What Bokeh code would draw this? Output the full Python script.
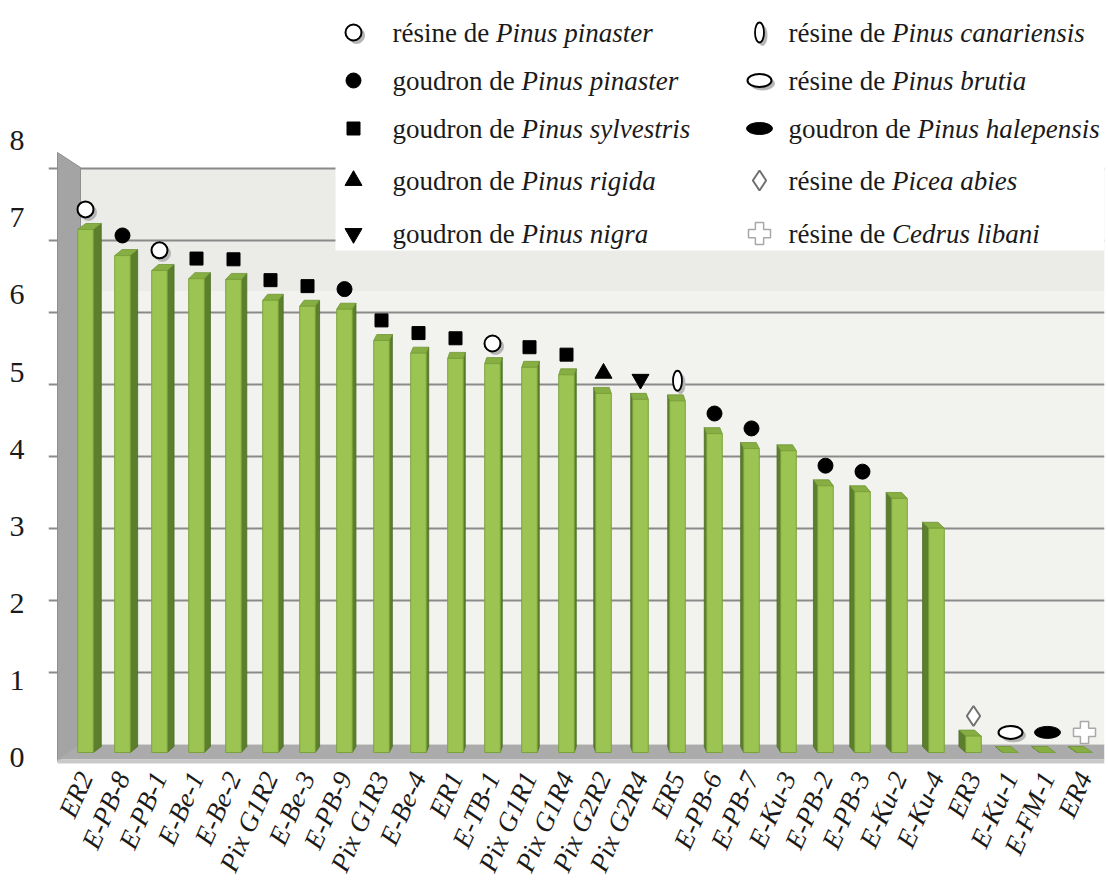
import numpy as np
from bokeh.plotting import figure
from bokeh.models import Range1d, LinearAxis, FixedTicker, Grid, ColumnDataSource
from bokeh.core.properties import value
from bokeh.embed import file_html
from bokeh.resources import INLINE

# ---------------- data ----------------
categories = ["ER2", "E-PB-8", "E-PB-1", "E-Be-1", "E-Be-2", "Pix G1R2", "E-Be-3",
              "E-PB-9", "Pix G1R3", "E-Be-4", "ER1", "E-TB-1", "Pix G1R1", "Pix G1R4",
              "Pix G2R2", "Pix G2R4", "ER5", "E-PB-6", "E-PB-7", "E-Ku-3", "E-PB-2",
              "E-PB-3", "E-Ku-2", "E-Ku-4", "ER3", "E-Ku-1", "E-FM-1", "ER4"]
values = [7.02, 6.67, 6.47, 6.36, 6.35, 6.07, 5.99, 5.95, 5.53, 5.36, 5.29, 5.22,
          5.17, 5.07, 4.82, 4.74, 4.72, 4.28, 4.08, 4.05, 3.58, 3.50, 3.41, 3.01,
          0.22, 0.0, 0.0, 0.0]
# marker kind drawn above each bar (None = no marker)
bar_marker = ["rp", "gp", "rp", "gs", "gs", "gs", "gs", "gp", "gs", "gs", "gs", "rp",
              "gs", "gs", "gr", "gn", "rc", "gp", "gp", None, "gp", "gp", None, None,
              "pa", "rb", "gh", "cl"]
y_ticks = [0, 1, 2, 3, 4, 5, 6, 7, 8]

legend_kinds = ["rp", "gp", "gs", "gr", "gn", "rc", "rb", "gh", "pa", "cl"]
legend_prefix = ["résine de ", "goudron de ", "goudron de ", "goudron de ", "goudron de ",
                 "résine de ", "résine de ", "goudron de ", "résine de ", "résine de "]
legend_species = ["Pinus pinaster", "Pinus pinaster", "Pinus sylvestris", "Pinus rigida",
                  "Pinus nigra", "Pinus canariensis", "Pinus brutia", "Pinus halepensis",
                  "Picea abies", "Cedrus libani"]

# ---------------- layout helpers (canvas pixels -> data units) ----------------
PX0, PITCH = 85.0, 37.0          # canvas x of first bar, bar pitch
PY0, PYS = 752.0, 74.5           # canvas y of value 0 (bar plane), px per unit


def dx(px):
    return (px - PX0) / PITCH


def dy(py):
    return (PY0 - py) / PYS


FONT = "Liberation Serif"
W, H = 1108, 885
FRAME_L, FRAME_R, FRAME_T, FRAME_B = 48, 1104, 0, 764

p = figure(width=W, height=H, output_backend="svg", toolbar_location=None,
           x_range=Range1d(dx(FRAME_L), dx(FRAME_R)), y_range=Range1d(dy(FRAME_B), dy(FRAME_T)),
           y_axis_location=None, min_border_left=FRAME_L, min_border_right=W - FRAME_R,
           min_border_top=FRAME_T, min_border_bottom=H - FRAME_B)
p.outline_line_color = None
p.background_fill_color = "white"
p.border_fill_color = "white"
p.grid.visible = False

# perspective planes: back wall and front axis
p.extra_y_ranges = {
    "wall": Range1d(-(FRAME_B - 744) / 72.0, (744 - FRAME_T) / 72.0),
    "front": Range1d(-(FRAME_B - 757) / 77.1, (757 - FRAME_T) / 77.1),
}

# back wall
p.quad(left=dx(80), right=dx(1104), bottom=0, top=8, y_range_name="wall",
       fill_color="#f2f3ef", line_color=None, level="image")
p.quad(left=dx(80), right=dx(1104), bottom=6.3, top=8, y_range_name="wall",
       fill_color="#ebece8", line_color=None, level="image")

grid = Grid(dimension=1, ticker=FixedTicker(ticks=y_ticks[1:]), y_range_name="wall",
            grid_line_color="#8a8a8a", grid_line_width=2, bounds=(dx(80), dx(1104)))
p.add_layout(grid, "center")

# left wall
p.patch(x=[dx(57), dx(80), dx(80), dx(57)], y=[dy(152), dy(167), dy(745), dy(761)],
        fill_color="#a4a4a4", line_color="#8e8e8e", line_width=1)
# floor
p.patch(x=[dx(80), dx(1104), dx(1104), dx(57)], y=[dy(744), dy(744), dy(759), dy(759)],
        fill_color="#ababab", line_color=None)
p.patch(x=[dx(57), dx(1104), dx(1104), dx(57)], y=[dy(759), dy(759), dy(763), dy(763)],
        fill_color="#c9c9c9", line_color=None)

# legend background box
p.quad(left=dx(335), right=dx(1104), bottom=dy(250), top=dy(0),
       fill_color="white", line_color=None)

# ---------------- bars (pseudo 3D) ----------------
n = len(categories)
xs = np.arange(n, dtype=float)
vals = np.array(values, dtype=float)
FW = 0.42                 # front face width
DEPTH = 6.0 / PYS         # vertical depth offset
side_xs, side_ys, top_xs, top_ys = [], [], [], []
for i in range(n):
    xl, xr, v = xs[i] - FW / 2, xs[i] + FW / 2, vals[i]
    s = max(2.0, 8.0 * abs(i - 13) / 13.0) / PITCH
    if i <= 13:
        side_xs.append([xr, xr + s, xr + s, xr])
        top_xs.append([xl, xr, xr + s, xl + s])
    else:
        side_xs.append([xl, xl - s, xl - s, xl])
        top_xs.append([xl, xr, xr - s, xl - s])
    side_ys.append([0, DEPTH, v + DEPTH, v])
    top_ys.append([v, v, v + DEPTH, v + DEPTH])

p.patches(xs=side_xs, ys=side_ys, fill_color="#5b7f2c", line_color="#4d6d24", line_width=0.8)
p.patches(xs=top_xs, ys=top_ys, fill_color="#86ae42", line_color="#6f9535", line_width=0.8)
p.quad(left=xs - FW / 2, right=xs + FW / 2, bottom=0, top=vals,
       fill_color="#9cc452", line_color="#7aa23a", line_width=1)

# ---------------- markers ----------------
MARKER_OFFSET = 0.27
SHADOW = (3.0 / PITCH, -3.0 / PYS)


def draw_kind(kind, mx, my):
    mx = np.asarray(mx, dtype=float)
    my = np.asarray(my, dtype=float)
    if len(mx) == 0:
        return
    sx, sy = mx + SHADOW[0], my + SHADOW[1]
    if kind == "rp":
        p.scatter(sx, sy, marker="circle", size=16, fill_color="#b5b5b5", line_color="#b5b5b5")
        p.scatter(mx, my, marker="circle", size=16, fill_color="white", line_color="black",
                  line_width=2)
    elif kind == "gp":
        p.scatter(mx, my, marker="circle", size=15, fill_color="black", line_color="black")
    elif kind == "gs":
        p.scatter(mx, my, marker="square", size=13, fill_color="black", line_color="black")
    elif kind == "gr":
        p.scatter(mx, my, marker="triangle", size=17, fill_color="black", line_color="black")
    elif kind == "gn":
        p.scatter(mx, my, marker="inverted_triangle", size=17, fill_color="black",
                  line_color="black")
    elif kind == "rc":
        p.ellipse(sx, sy, width=9, height=20, width_units="screen", height_units="screen",
                  fill_color="#b5b5b5", line_color="#b5b5b5")
        p.ellipse(mx, my, width=9, height=20, width_units="screen", height_units="screen",
                  fill_color="white", line_color="black", line_width=1.8)
    elif kind == "rb":
        p.ellipse(sx, sy, width=24, height=13, width_units="screen", height_units="screen",
                  fill_color="#b5b5b5", line_color="#b5b5b5")
        p.ellipse(mx, my, width=24, height=13, width_units="screen", height_units="screen",
                  fill_color="white", line_color="black", line_width=2)
    elif kind == "gh":
        p.ellipse(mx, my, width=26, height=12, width_units="screen", height_units="screen",
                  fill_color="black", line_color="black")
    elif kind == "pa":
        p.scatter(mx, my, marker="diamond", size=20, fill_color="white", line_color="#707070",
                  line_width=2)
    elif kind == "cl":
        p.scatter(mx, my, marker="plus", size=22, fill_color="white", line_color="#a8a8a8",
                  line_width=1.5)


for kind in legend_kinds:
    idx = [i for i in range(n) if bar_marker[i] == kind]
    draw_kind(kind, xs[idx], vals[idx] + MARKER_OFFSET)

# ---------------- legend (manual, two columns) ----------------
rows_py = [32, 80, 128, 180, 233]
col_marker_px = [353, 759]
col_text_px = [392, 788]
FS = 27
# Liberation Serif advance widths (per 1000 em) for the prefixes
ADV = {" ": 250, "r": 333, "é": 444, "s": 389, "i": 278, "n": 500, "e": 444, "d": 500,
       "g": 500, "o": 500, "u": 500}

lx, ly, tx, ty, pref, spec, offs = [], [], [], [], [], [], []
for k in range(len(legend_kinds)):
    col, row = divmod(k, 5)
    lx.append(dx(col_marker_px[col]))
    ly.append(dy(rows_py[row]))
    tx.append(dx(col_text_px[col]))
    ty.append(dy(rows_py[row]))
    pref.append(legend_prefix[k])
    spec.append(legend_species[k])
    offs.append(sum(ADV.get(c, 500) for c in legend_prefix[k]) * FS / 1000.0)

for k, kind in enumerate(legend_kinds):
    draw_kind(kind, [lx[k]], [ly[k]])

src = ColumnDataSource(dict(x=tx, y=ty, pref=pref, spec=spec, off=offs))
p.text(x="x", y="y", text="pref", source=src, text_font=value(FONT),
       text_font_size=f"{FS}px", text_baseline="middle", text_align="left",
       text_color="#1a1a1a")
p.text(x="x", y="y", text="spec", x_offset="off", source=src, text_font=value(FONT),
       text_font_size=f"{FS}px", text_font_style="italic", text_baseline="middle",
       text_align="left", text_color="#1a1a1a")

# ---------------- axes ----------------
yaxis = LinearAxis(y_range_name="front", ticker=FixedTicker(ticks=y_ticks))
yaxis.axis_line_color = None
yaxis.major_tick_line_color = None
yaxis.minor_tick_line_color = None
yaxis.major_label_text_font = FONT
yaxis.major_label_text_font_size = "30px"
yaxis.major_label_text_color = "#1a1a1a"
yaxis.major_label_standoff = 18
p.add_layout(yaxis, "left")

xa = p.xaxis[0]
xa.ticker = FixedTicker(ticks=list(range(n)))
xa.major_label_overrides = {i: categories[i] for i in range(n)}
xa.major_label_orientation = 1.15
xa.axis_line_color = None
xa.major_tick_line_color = None
xa.minor_tick_line_color = None
xa.major_label_text_font = FONT
xa.major_label_text_font_style = "italic"
xa.major_label_text_font_size = "27px"
xa.major_label_text_color = "#1a1a1a"
xa.major_label_standoff = 3

open("out.html", "w").write(file_html(p, INLINE))
